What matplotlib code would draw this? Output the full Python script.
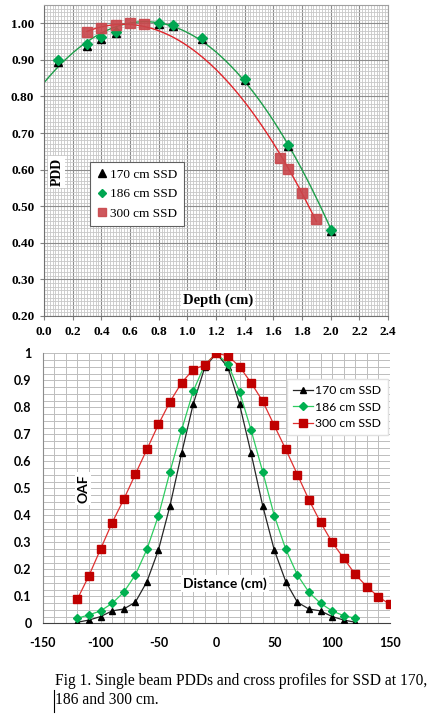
import numpy as np
import matplotlib
matplotlib.use("Agg")
import matplotlib.pyplot as plt
from matplotlib.ticker import MultipleLocator, FormatStrFormatter

plt.rcParams["axes.unicode_minus"] = False

# ---------------- data: PDD ----------------
pdd_depth_170 = [0.1, 0.3, 0.4, 0.5, 0.8, 0.9, 1.1, 1.4, 1.7, 2.0]
pdd_170 = [0.894, 0.939, 0.958, 0.973, 0.997, 0.992, 0.957, 0.846, 0.664, 0.431]
pdd_depth_186 = [0.1, 0.3, 0.4, 0.5, 0.8, 0.9, 1.1, 1.4, 1.7, 2.0]
pdd_186 = [0.899, 0.943, 0.963, 0.977, 1.000, 0.995, 0.961, 0.849, 0.668, 0.435]
pdd_depth_300 = [0.3, 0.4, 0.5, 0.6, 0.7, 1.65, 1.7, 1.8, 1.9]
pdd_300 = [0.976, 0.987, 0.996, 1.000, 0.997, 0.633, 0.603, 0.537, 0.465]

# ---------------- data: OAF ----------------
oaf_x_170 = [-120, -110, -100, -90, -80, -70, -60, -50, -40, -30, -20, -10, 0,
             10, 20, 30, 40, 50, 60, 70, 80, 90, 100, 110, 120]
oaf_170 = [0.004, 0.012, 0.025, 0.046, 0.053, 0.078, 0.154, 0.272, 0.436, 0.630,
           0.812, 0.948, 1.000, 0.948, 0.812, 0.630, 0.436, 0.272, 0.154, 0.078,
           0.053, 0.046, 0.025, 0.012, 0.004]
oaf_x_186 = [-120, -110, -100, -90, -80, -70, -60, -50, -40, -30, -20, -10, 0,
             10, 20, 30, 40, 50, 60, 70, 80, 90, 100, 110, 120]
oaf_186 = [0.019, 0.031, 0.046, 0.074, 0.115, 0.179, 0.274, 0.399, 0.562, 0.716,
           0.860, 0.958, 1.000, 0.960, 0.858, 0.716, 0.562, 0.399, 0.274, 0.179,
           0.115, 0.074, 0.046, 0.028, 0.019]
oaf_x_300 = [-120, -110, -100, -90, -80, -70, -60, -50, -40, -30, -20, -10, 0,
             10, 20, 30, 40, 50, 60, 70, 80, 90, 100, 110, 120, 130, 140, 150]
oaf_300 = [0.090, 0.177, 0.275, 0.373, 0.459, 0.552, 0.644, 0.737, 0.821, 0.891,
           0.940, 0.957, 1.000, 0.991, 0.951, 0.891, 0.823, 0.733, 0.644, 0.551,
           0.457, 0.374, 0.300, 0.241, 0.181, 0.136, 0.098, 0.070]

labels = ["170 cm SSD", "186 cm SSD", "300 cm SSD"]
caption1 = "Fig 1. Single beam PDDs and cross profiles for SSD at 170,"
caption2 = "186 and 300 cm."

serif = ["Liberation Serif", "DejaVu Serif"]
sans = ["Lato", "DejaVu Sans"]

fig = plt.figure(figsize=(4.34, 7.18), dpi=100)

# ================= top: PDD =================
ax1 = fig.add_axes([0.1014, 0.5599, 0.7926, 0.4331])
ax1.set_xlim(0, 2.4)
ax1.set_ylim(0.2, 1.05)
ax1.xaxis.set_major_locator(MultipleLocator(0.2))
ax1.xaxis.set_minor_locator(MultipleLocator(0.02))
ax1.yaxis.set_major_locator(MultipleLocator(0.1))
ax1.yaxis.set_minor_locator(MultipleLocator(0.01))
ax1.xaxis.set_major_formatter(FormatStrFormatter("%.1f"))
ax1.yaxis.set_major_formatter(FormatStrFormatter("%.2f"))
ax1.grid(which="minor", color="#C8C8C8", lw=0.6)
ax1.grid(which="major", color="#8C8C8C", lw=0.8)
ax1.set_axisbelow(True)
ax1.tick_params(which="minor", length=0)
ax1.tick_params(which="major", length=3, width=0.8, color="#808080", pad=4)
for lab in ax1.get_xticklabels() + ax1.get_yticklabels():
    lab.set_fontfamily(serif)
    lab.set_fontweight("bold")
    lab.set_fontsize(9.5)
for s in ["left", "bottom"]:
    ax1.spines[s].set_color("#707070")
for s in ["top", "right"]:
    ax1.spines[s].set_color("#A0A0A0")

# trendlines (polynomial fits of the measured points)
c186 = np.polyfit(pdd_depth_186, pdd_186, 2)
xs = np.linspace(0.0, 2.0, 200)
ax1.plot(xs, np.polyval(c186, xs), color="#1E9E4A", lw=1.0, zorder=2)
c300 = np.polyfit(pdd_depth_300, pdd_300, 2)
xs3 = np.linspace(min(pdd_depth_300), max(pdd_depth_300), 200)
ax1.plot(xs3, np.polyval(c300, xs3), color="#E0262C", lw=1.0, zorder=2)

ax1.plot(pdd_depth_170, pdd_170, ls="none", marker="^", ms=6, color="black",
         label=labels[0], zorder=3)
ax1.plot(pdd_depth_186, pdd_186, ls="none", marker="D", ms=5, color="#00A651",
         label=labels[1], zorder=4)
ax1.plot(pdd_depth_300, pdd_300, ls="none", marker="s", ms=7, color="#C9464B",
         alpha=0.9, label=labels[2], zorder=5)

leg1 = ax1.legend(loc="upper left", bbox_to_anchor=(0.135, 0.495),
                  prop={"family": serif, "size": 9.5}, frameon=True,
                  fancybox=False, handlelength=0.8, handletextpad=0.2,
                  borderpad=0.5, labelspacing=0.55, borderaxespad=0,
                  markerscale=0.85)
leg1.get_frame().set_edgecolor("#606060")
leg1.get_frame().set_linewidth(0.8)
leg1.get_frame().set_alpha(1)

ax1.text(0.09, 0.593, "PDD", rotation=90, ha="center", va="center",
         family=serif, fontweight="bold", fontsize=10,
         bbox=dict(facecolor="white", edgecolor="none", pad=1.5))
ax1.text(1.214, 0.244, "Depth (cm)", ha="center", va="center",
         family=serif, fontweight="bold", fontsize=10.5,
         bbox=dict(facecolor="white", edgecolor="none", pad=1.5))

# ================= bottom: OAF =================
ax2 = fig.add_axes([0.0984, 0.1319, 0.8002, 0.3760])
ax2.set_xlim(-150, 150)
ax2.set_ylim(0, 1)
ax2.xaxis.set_major_locator(MultipleLocator(50))
ax2.xaxis.set_minor_locator(MultipleLocator(10))
ax2.yaxis.set_major_locator(MultipleLocator(0.1))
ax2.yaxis.set_minor_locator(MultipleLocator(0.025))
ax2.yaxis.set_major_formatter(matplotlib.ticker.FuncFormatter(
    lambda v, p: "0" if abs(v) < 1e-9 else ("1" if abs(v - 1) < 1e-9 else f"{v:.1f}")))
ax2.grid(which="both", color="#BDBDBD", lw=0.7)
ax2.set_axisbelow(True)
ax2.tick_params(which="both", length=0)
ax2.tick_params(axis="x", pad=10)
ax2.tick_params(axis="y", pad=8)
for lab in ax2.get_xticklabels() + ax2.get_yticklabels():
    lab.set_fontfamily(sans)
    lab.set_fontweight("bold")
    lab.set_fontsize(9)
ax2.spines["left"].set_color("#8C8C8C")
ax2.spines["bottom"].set_color("#404040")
ax2.spines["top"].set_visible(False)
ax2.spines["right"].set_visible(False)

ax2.plot(oaf_x_170, oaf_170, color="#262626", lw=0.9, marker="^", ms=5,
         mfc="black", mec="black", label=labels[0], zorder=3)
ax2.plot(oaf_x_186, oaf_186, color="#2ECC60", lw=0.9, marker="D", ms=4,
         mfc="#00B050", mec="#00B050", label=labels[1], zorder=4)
ax2.plot(oaf_x_300, oaf_300, color="#E03030", lw=0.9, marker="s", ms=5.5,
         mfc="#C00000", mec="#C00000", label=labels[2], zorder=5)

leg2 = ax2.legend(loc="upper right", bbox_to_anchor=(0.993, 0.905),
                  prop={"family": sans, "size": 8.8}, frameon=True,
                  fancybox=False, handlelength=1.6, handletextpad=0.2,
                  borderpad=0.5, labelspacing=0.45, borderaxespad=0)
leg2.get_frame().set_edgecolor("#E0E0E0")
leg2.get_frame().set_alpha(1)

ax2.text(-115, 0.50, "OAF", rotation=90, ha="center", va="center",
         family=sans, fontweight="bold", fontsize=10,
         bbox=dict(facecolor="white", edgecolor="none", pad=1.5))
ax2.text(7.5, 0.146, "Distance (cm)", ha="center", va="center",
         family=sans, fontweight="bold", fontsize=10,
         bbox=dict(facecolor="white", edgecolor="none", pad=1.5))

# ================= caption =================
fig.text(0.127, 0.0515, caption1, ha="left", va="center", family=serif, fontsize=11.2)
fig.text(0.127, 0.025, caption2, ha="left", va="center", family=serif, fontsize=11.2)
fig.lines.append(matplotlib.lines.Line2D([0.1245, 0.1245], [0.009, 0.039],
                 transform=fig.transFigure, color="black", lw=0.8))

fig.savefig("out.png", dpi=100, facecolor="white")
